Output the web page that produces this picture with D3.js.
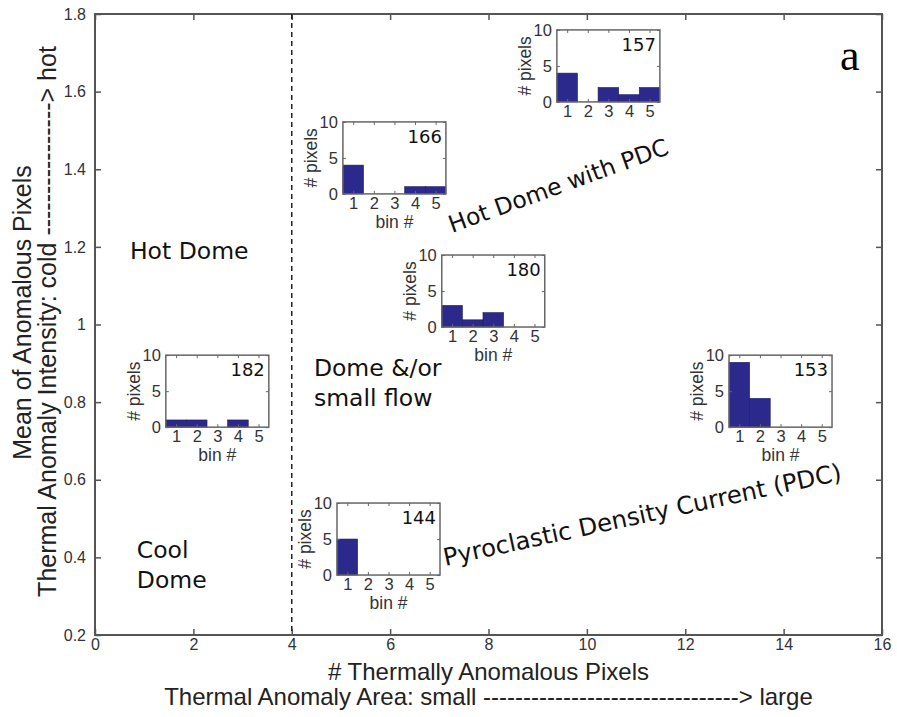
<!DOCTYPE html>
<html lang="en">
    <head>
        <meta charset="utf-8">
        <style>
            body { margin: 0; background: #fff; }
            .tick text { font-family: "Liberation Sans", Arial, sans-serif; fill: #333; }
            .region { font-family: "DejaVu Sans", sans-serif; font-size: 23.5px; fill: #111; }
            .axislabel { font-family: "Liberation Sans", Arial, sans-serif; font-size: 24px; fill: #222; }
            .inlabel { font-family: "Liberation Sans", Arial, sans-serif; font-size: 17.5px; fill: #333; }
        </style>
        <script src="https://d3js.org/d3.v7.min.js"></script>
    </head>
    <body>
        <svg width="897" height="717"></svg>
        <script>
            // main axes
            var xTicks = [0, 2, 4, 6, 8, 10, 12, 14, 16];
            var yTicks = [0.2, 0.4, 0.6, 0.8, 1, 1.2, 1.4, 1.6, 1.8];
            var divider = 4;

            // inset histograms (bin counts per event)
            var insetIds = ["157", "166", "180", "182", "153", "144"];
            var insetCounts = [
                [4, 0, 2, 1, 2],
                [4, 0, 0, 1, 1],
                [3, 1, 2, 0, 0],
                [1, 1, 0, 1, 0],
                [9, 4, 0, 0, 0],
                [5, 0, 0, 0, 0]
            ];
            var bins = [1, 2, 3, 4, 5];
            var binTicksY = [0, 5, 10];
            // the top inset's "bin #" is hidden in the original figure
            var showBinTitle = [false, true, true, true, true, true];

            // where each inset's top-left corner sits, in main-axis units
            var insetAnchors = [
                [9.39, 1.759], [5.04, 1.522], [7.05, 1.179],
                [1.44, 0.921], [12.89, 0.921], [4.92, 0.540]
            ];

            var regionLabels = [
                {text: ["Hot Dome"], x: 0.71, y: 1.169, rot: 0, size: 23.5},
                {text: ["Dome &/or", "small flow"], x: 4.45, y: 0.867, rot: 0, size: 23.5},
                {text: ["Cool", "Dome"], x: 0.85, y: 0.398, rot: 0, size: 23.5},
                {text: ["Hot Dome with PDC"], x: 7.26, y: 1.236, rot: -20, size: 23.5},
                {text: ["Pyroclastic Density Current (PDC)"], x: 7.12, y: 0.378, rot: -12.2, size: 24.3}
            ];

            var svg = d3.select("svg");

            var x = d3.scaleLinear().domain([0, 16]).range([95, 882]);
            var y = d3.scaleLinear().domain([0.2, 1.8]).range([635, 14]);

            var axisColor = "#555";

            // ticks on all four sides, pointing in
            svg.append("g")
                .attr("transform", "translate(0," + y.range()[0] + ")")
                .call(d3.axisBottom(x).tickValues(xTicks).tickSizeInner(-6).tickSizeOuter(0).tickPadding(4))
                .call(function(g) { g.select(".domain").remove(); })
                .call(function(g) { g.selectAll("line").attr("stroke", axisColor).attr("stroke-width", 1.5); })
                .call(function(g) { g.selectAll("text").style("font-size", "16px"); });

            svg.append("g")
                .attr("transform", "translate(0," + y.range()[1] + ")")
                .call(d3.axisTop(x).tickValues(xTicks).tickSizeInner(-6).tickSizeOuter(0).tickFormat(""))
                .call(function(g) { g.select(".domain").remove(); })
                .call(function(g) { g.selectAll("line").attr("stroke", axisColor).attr("stroke-width", 1.5); });

            svg.append("g")
                .attr("transform", "translate(" + x.range()[0] + ",0)")
                .call(d3.axisLeft(y).tickValues(yTicks).tickSizeInner(-6).tickSizeOuter(0).tickPadding(9)
                    .tickFormat(function(d) { return d3.format("")(+d.toFixed(1)); }))
                .call(function(g) { g.select(".domain").remove(); })
                .call(function(g) { g.selectAll("line").attr("stroke", axisColor).attr("stroke-width", 1.5); })
                .call(function(g) { g.selectAll("text").style("font-size", "16px"); });

            svg.append("g")
                .attr("transform", "translate(" + x.range()[1] + ",0)")
                .call(d3.axisRight(y).tickValues(yTicks).tickSizeInner(-6).tickSizeOuter(0).tickFormat(""))
                .call(function(g) { g.select(".domain").remove(); })
                .call(function(g) { g.selectAll("line").attr("stroke", axisColor).attr("stroke-width", 1.5); });

            svg.append("rect")
                .attr("x", x(0))
                .attr("y", y(1.8))
                .attr("width", x(16) - x(0))
                .attr("height", y(0.2) - y(1.8))
                .attr("fill", "none")
                .attr("stroke", axisColor)
                .attr("stroke-width", 2);

            // dashed divider at 4 pixels
            svg.append("line")
                .attr("x1", x(divider)).attr("x2", x(divider))
                .attr("y1", y(1.8)).attr("y2", y(0.2))
                .attr("stroke", "#222")
                .attr("stroke-width", 1.5)
                .attr("stroke-dasharray", "5,4");

            // axis titles
            svg.append("text").attr("class", "axislabel")
                .attr("x", (x(0) + x(16)) / 2).attr("y", 680)
                .attr("text-anchor", "middle")
                .text("# Thermally Anomalous Pixels");
            svg.append("text").attr("class", "axislabel")
                .attr("x", (x(0) + x(16)) / 2).attr("y", 705)
                .attr("text-anchor", "middle")
                .text("Thermal Anomaly Area: small --------------------------------> large");

            svg.append("text").attr("class", "axislabel")
                .style("font-size", "25px")
                .attr("transform", "translate(31," + (y(1) - 12) + ") rotate(-90)")
                .attr("text-anchor", "middle")
                .text("Mean of Anomalous Pixels");
            svg.append("text").attr("class", "axislabel")
                .style("font-size", "25px")
                .attr("transform", "translate(56," + (y(1) - 3) + ") rotate(-90)")
                .attr("text-anchor", "middle")
                .text("Thermal Anomaly Intensity: cold ----------------> hot");

            // region annotations
            regionLabels.forEach(function(r) {
                var t = svg.append("text").attr("class", "region")
                    .style("font-size", r.size + "px")
                    .attr("transform", "translate(" + x(r.x) + "," + y(r.y) + ") rotate(" + r.rot + ")");
                r.text.forEach(function(line, i) {
                    t.append("tspan").attr("x", 0).attr("dy", i === 0 ? 0 : 30).text(line);
                });
            });

            // panel letter
            svg.append("text")
                .attr("x", 840).attr("y", 70)
                .style("font-family", "'Liberation Serif', 'Times New Roman', serif")
                .style("font-size", "44px")
                .text("a");

            // inset histograms
            var iw = 103, ih = 72;
            var ix = d3.scaleLinear().domain([0.5, 5.5]).range([0, iw]);
            var iy = d3.scaleLinear().domain([0, 10]).range([ih, 0]);

            insetIds.forEach(function(id, k) {
                var g = svg.append("g")
                    .attr("transform", "translate(" + x(insetAnchors[k][0]) + "," + y(insetAnchors[k][1]) + ")");

                g.append("rect")
                    .attr("width", iw).attr("height", ih)
                    .attr("fill", "#fff");

                g.selectAll("rect.bar")
                    .data(insetCounts[k])
                    .enter()
                    .append("rect")
                        .attr("class", "bar")
                        .attr("x", function(d, i) { return ix(bins[i] - 0.5); })
                        .attr("width", function(d, i) { return ix(bins[i] + 0.5) - ix(bins[i] - 0.5); })
                        .attr("y", function(d) { return iy(d); })
                        .attr("height", function(d) { return iy(0) - iy(d); })
                        .attr("fill", "#2b2a8c")
                        .attr("stroke", "#1d1c60")
                        .attr("stroke-width", 0.6);

                var styleAxis = function(a) {
                    a.select(".domain").remove();
                    a.selectAll("line").attr("stroke", "#666");
                    a.selectAll("text").style("font-size", "16.5px").style("fill", "#333");
                };

                g.append("g").attr("transform", "translate(0," + ih + ")")
                    .call(d3.axisBottom(ix).tickValues(bins).tickFormat(d3.format("d"))
                        .tickSizeInner(-3).tickSizeOuter(0).tickPadding(3))
                    .call(styleAxis);
                g.append("g")
                    .call(d3.axisTop(ix).tickValues(bins).tickSizeInner(-3).tickSizeOuter(0).tickFormat(""))
                    .call(styleAxis);
                g.append("g")
                    .call(d3.axisLeft(iy).tickValues(binTicksY).tickFormat(d3.format("d"))
                        .tickSizeInner(-3).tickSizeOuter(0).tickPadding(5))
                    .call(styleAxis);
                g.append("g").attr("transform", "translate(" + iw + ",0)")
                    .call(d3.axisRight(iy).tickValues(binTicksY).tickSizeInner(-3).tickSizeOuter(0).tickFormat(""))
                    .call(styleAxis);

                g.append("rect")
                    .attr("width", iw).attr("height", ih)
                    .attr("fill", "none")
                    .attr("stroke", "#666")
                    .attr("stroke-width", 1.5);

                g.append("text")
                    .attr("x", iw - 4).attr("y", 21)
                    .attr("text-anchor", "end")
                    .style("font-family", "'DejaVu Sans', sans-serif")
                    .style("font-size", "18px")
                    .style("fill", "#111")
                    .text(id);

                g.append("text").attr("class", "inlabel")
                    .attr("transform", "translate(-26," + ih / 2 + ") rotate(-90)")
                    .attr("text-anchor", "middle")
                    .text("# pixels");

                if (showBinTitle[k]) {
                    g.append("text").attr("class", "inlabel")
                        .attr("x", iw / 2).attr("y", ih + 34)
                        .attr("text-anchor", "middle")
                        .text("bin #");
                }
            });
        </script>
    </body>
</html>
